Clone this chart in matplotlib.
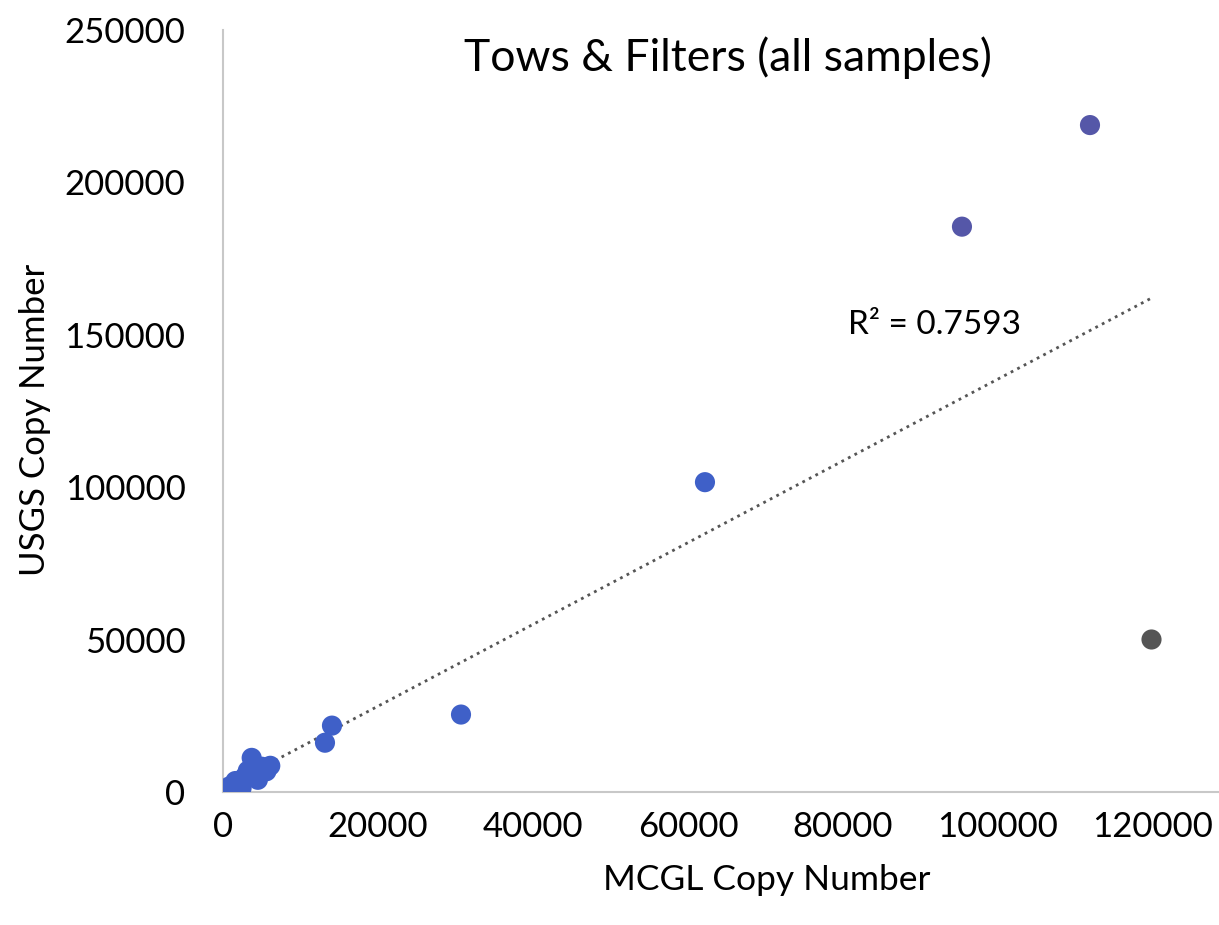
#!/usr/bin/env python
# USGS vs MCGL copy numbers, tows & filters
import numpy as np
import matplotlib.pyplot as plt

plt.rcParams['font.family'] = ['Lato', 'DejaVu Sans']

# values
mcgl = [100, 400, 800, 1200, 1600, 2000, 2400, 2800, 3200, 3700, 4100, 4500, 5000, 5600, 6100,
        13160, 14060, 30710, 62190, 95350, 111870]
usgs = [200, 600, 1800, 1000, 3600, 2500, 1300, 5000, 7000, 11200, 6000, 4000, 8300, 6800, 8600,
        16170, 21780, 25410, 101650, 185480, 218810]
outlier_x = [119740]
outlier_y = [50170]
r2_label = 'R² = 0.7593'

allx = np.array(mcgl + outlier_x)
ally = np.array(usgs + outlier_y)
slope, icpt = np.polyfit(allx, ally, 1)

W, H = 1219, 925
fig = plt.figure(figsize=(W/100, H/100), dpi=100)
ax = fig.add_axes([223/W, 1-792/H, 1-223/W, (792-30)/H])

cols = ['#5557a8' if v > 150000 else '#3f60c8' for v in usgs]
ax.scatter(mcgl, usgs, s=210, c=cols, zorder=3, linewidths=0)
ax.scatter(outlier_x, outlier_y, s=210, color='#555555', zorder=3, linewidths=0)

# linear trendline over all samples
xs = np.array([0, allx.max()])
ax.plot(xs, slope*xs + icpt, ls=':', color='#555555', lw=2, zorder=2)

ax.set_xlim(0, (W-223)/155*20000)
ax.set_ylim(0, 250000)
ax.set_xticks(range(0, 120001, 20000))
ax.set_yticks(range(0, 250001, 50000))
ax.tick_params(length=0, labelsize=25)
ax.tick_params(axis='y', pad=27)
ax.tick_params(axis='x', pad=14)
for s in ['top', 'right']:
    ax.spines[s].set_visible(False)
for s in ['left', 'bottom']:
    ax.spines[s].set_color('#c8c8c8')
    ax.spines[s].set_linewidth(1.5)

fig.text(767/W, 1-880/H, 'MCGL Copy Number', fontsize=25.5, ha='center', va='center')
fig.text(35/W, 1-420/H, 'USGS Copy Number', fontsize=25, ha='center', va='center', rotation=90)
fig.text(728/W, 1-58/H, 'Tows & Filters (all samples)', fontsize=32, ha='center', va='center')
fig.text(934/W, 1-325/H, r2_label, fontsize=24, ha='center', va='center')

fig.savefig('out.png')
